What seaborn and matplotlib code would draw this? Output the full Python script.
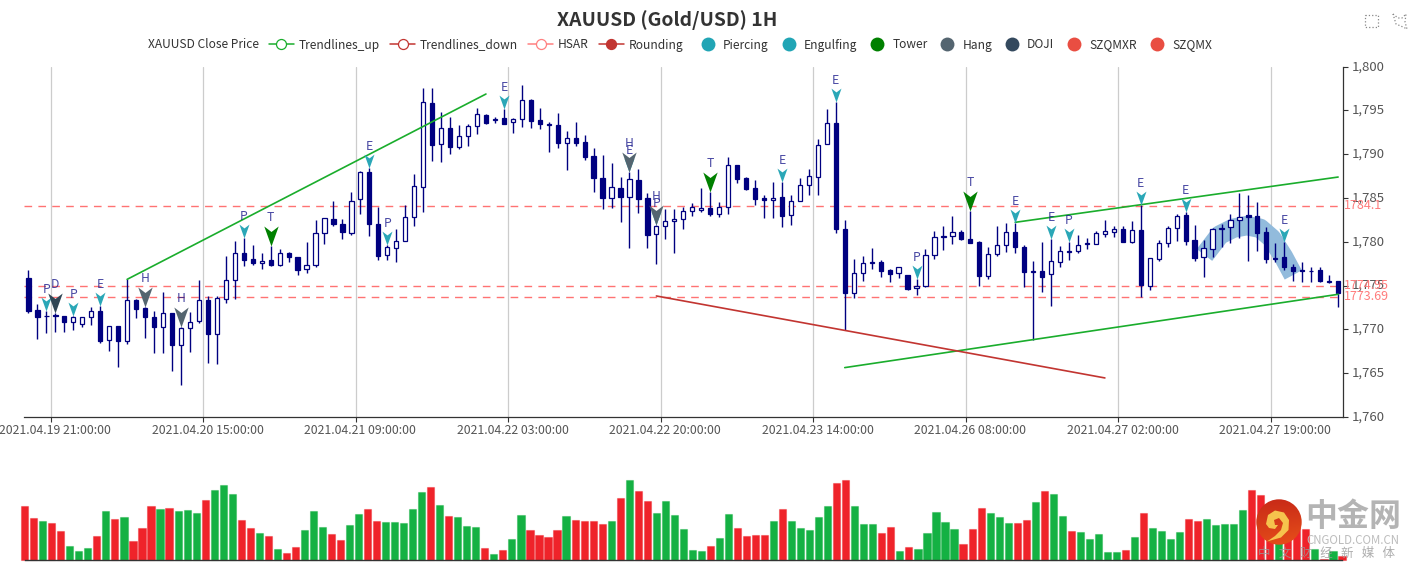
import numpy as np
import pandas as pd
import matplotlib
matplotlib.use('Agg')
import matplotlib.pyplot as plt
import seaborn as sns
from matplotlib.lines import Line2D
from matplotlib.patches import Circle, Polygon
from matplotlib.path import Path
from matplotlib.ticker import FuncFormatter, FixedLocator
from matplotlib.transforms import ScaledTranslation

# candles, hourly
opens = [1775.84, 1772.18, 1771.50, 1771.65, 1771.54, 1770.85, 1770.66, 1771.42, 1772.15, 1768.76,
         1770.43, 1768.72, 1773.36, 1772.41, 1771.46, 1770.24, 1771.92, 1768.23, 1770.13, 1770.93,
         1773.36, 1769.52, 1773.52, 1775.61, 1778.77, 1778.01, 1777.55, 1777.89, 1777.32, 1778.73,
         1778.31, 1776.86, 1777.32, 1780.97, 1782.65, 1782.04, 1780.97, 1784.86, 1787.94, 1782.04,
         1778.54, 1779.26, 1780.10, 1782.84, 1786.26, 1795.85, 1791.13, 1792.96, 1790.87, 1792.05,
         1793.19, 1794.48, 1793.95, 1794.10, 1793.64, 1793.99, 1796.23, 1793.91, 1793.49, 1793.34,
         1791.25, 1791.82, 1791.40, 1789.76, 1787.29, 1785.05, 1786.11, 1785.16, 1787.02, 1785.01,
         1780.86, 1781.77, 1782.34, 1782.57, 1783.56, 1783.60, 1783.83, 1783.14, 1783.98, 1788.77,
         1787.25, 1786.11, 1784.97, 1784.82, 1785.12, 1783.03, 1784.63, 1786.49, 1787.37, 1791.13,
         1793.53, 1781.51, 1774.20, 1776.41, 1777.55, 1777.66, 1776.75, 1776.41, 1776.26, 1774.70,
         1774.92, 1778.46, 1780.59, 1780.71, 1781.13, 1780.37, 1779.95, 1776.14, 1778.58, 1779.60,
         1781.16, 1779.45, 1776.56, 1776.64, 1776.37, 1777.74, 1778.92, 1778.92, 1779.72, 1779.72,
         1780.86, 1781.09, 1781.47, 1780.02, 1781.39, 1775.00, 1778.01, 1779.91, 1781.62, 1783.10,
         1780.17, 1778.23, 1779.19, 1781.43, 1781.66, 1782.53, 1783.03, 1782.99, 1781.09, 1778.04,
         1778.27, 1777.17, 1776.75, 1776.64, 1776.79, 1775.46, 1775.53]
closes = [1772.15, 1771.42, 1771.58, 1771.54, 1770.85, 1771.39, 1771.42, 1772.15, 1768.68, 1770.40,
          1768.65, 1773.33, 1772.34, 1771.46, 1770.28, 1771.92, 1768.23, 1770.21, 1770.85, 1773.33,
          1769.52, 1773.59, 1775.61, 1778.77, 1777.97, 1777.55, 1777.85, 1777.36, 1778.73, 1778.23,
          1776.83, 1777.40, 1780.97, 1782.69, 1782.04, 1781.13, 1784.70, 1787.94, 1782.00, 1778.42,
          1779.38, 1780.14, 1782.88, 1786.34, 1795.93, 1791.10, 1792.96, 1790.83, 1792.05, 1793.23,
          1794.56, 1793.61, 1794.06, 1793.49, 1793.99, 1796.23, 1793.83, 1793.42, 1793.34, 1791.32,
          1791.82, 1791.32, 1789.73, 1787.33, 1785.01, 1786.22, 1785.12, 1787.14, 1784.93, 1780.75,
          1781.81, 1782.34, 1782.65, 1783.56, 1783.98, 1783.83, 1783.14, 1783.98, 1788.74, 1787.21,
          1786.00, 1784.93, 1784.82, 1784.97, 1782.99, 1784.63, 1786.53, 1787.48, 1791.10, 1793.53,
          1781.51, 1774.20, 1776.41, 1777.55, 1777.66, 1776.71, 1776.37, 1777.09, 1774.66, 1774.92,
          1778.46, 1780.59, 1780.71, 1781.13, 1780.33, 1779.91, 1776.14, 1778.65, 1779.60, 1781.16,
          1779.45, 1776.56, 1776.67, 1776.03, 1777.78, 1778.92, 1778.81, 1779.68, 1779.83, 1780.97,
          1781.28, 1781.43, 1779.98, 1781.32, 1775.04, 1778.12, 1779.83, 1781.54, 1782.99, 1780.10,
          1778.16, 1779.26, 1781.43, 1781.62, 1782.53, 1782.88, 1782.88, 1781.01, 1778.08, 1778.20,
          1777.17, 1776.67, 1776.64, 1776.71, 1775.49, 1775.57, 1774.20]
highs = [1776.79, 1772.87, 1772.15, 1771.84, 1771.54, 1771.54, 1771.46, 1772.53, 1772.72, 1770.43,
         1770.43, 1775.72, 1773.52, 1772.53, 1772.11, 1774.24, 1771.92, 1770.32, 1771.99, 1775.65,
         1773.86, 1773.78, 1778.35, 1780.06, 1780.40, 1779.68, 1778.69, 1779.53, 1779.19, 1778.84,
         1778.31, 1779.98, 1782.46, 1782.69, 1784.66, 1782.57, 1785.69, 1788.13, 1788.39, 1783.98,
         1779.60, 1781.47, 1784.21, 1787.78, 1797.56, 1797.56, 1794.86, 1794.22, 1793.30, 1793.42,
         1795.24, 1794.63, 1794.29, 1795.13, 1794.18, 1797.87, 1796.27, 1795.24, 1793.72, 1794.75,
         1792.69, 1793.64, 1792.24, 1790.68, 1789.88, 1788.96, 1787.44, 1788.01, 1788.28, 1785.54,
         1781.93, 1783.75, 1783.75, 1784.02, 1784.40, 1786.15, 1785.73, 1784.51, 1789.69, 1788.81,
         1787.44, 1787.02, 1785.31, 1786.80, 1786.87, 1785.35, 1787.25, 1788.36, 1791.70, 1795.13,
         1796.00, 1782.50, 1778.01, 1778.35, 1779.26, 1777.89, 1776.86, 1777.13, 1776.26, 1775.76,
         1779.15, 1781.20, 1781.81, 1782.95, 1781.32, 1783.56, 1780.10, 1779.38, 1781.81, 1782.15,
         1782.19, 1779.64, 1777.82, 1780.02, 1780.29, 1779.53, 1780.02, 1780.75, 1780.44, 1781.24,
         1782.46, 1781.81, 1781.77, 1782.34, 1784.21, 1778.12, 1780.17, 1781.81, 1783.18, 1783.45,
         1781.93, 1780.21, 1781.62, 1782.04, 1783.14, 1785.54, 1785.35, 1784.51, 1781.73, 1779.83,
         1779.95, 1777.44, 1777.70, 1777.17, 1777.17, 1776.26, 1775.57]
lows = [1771.92, 1768.95, 1769.56, 1769.75, 1769.75, 1769.94, 1770.28, 1770.51, 1768.46, 1767.54,
        1765.68, 1768.38, 1771.27, 1769.06, 1767.31, 1767.31, 1765.26, 1763.62, 1767.43, 1770.70,
        1766.17, 1766.10, 1773.06, 1773.52, 1777.28, 1777.40, 1776.94, 1777.28, 1777.25, 1777.70,
        1776.26, 1776.48, 1777.09, 1779.72, 1781.77, 1780.33, 1780.82, 1783.22, 1780.71, 1777.97,
        1777.89, 1777.74, 1780.10, 1781.85, 1783.37, 1789.27, 1789.15, 1789.99, 1790.64, 1790.94,
        1792.35, 1793.49, 1793.61, 1793.49, 1792.47, 1793.15, 1793.00, 1792.88, 1790.26, 1790.68,
        1788.24, 1790.94, 1789.31, 1785.65, 1783.71, 1783.87, 1782.27, 1779.34, 1783.33, 1779.26,
        1777.44, 1780.37, 1778.77, 1781.43, 1782.99, 1783.41, 1782.99, 1782.88, 1783.22, 1786.76,
        1785.96, 1784.17, 1782.76, 1782.72, 1781.66, 1781.89, 1784.63, 1785.35, 1785.31, 1791.13,
        1781.05, 1769.98, 1773.59, 1775.53, 1776.86, 1775.95, 1775.46, 1775.84, 1774.54, 1773.90,
        1774.85, 1778.01, 1779.07, 1779.76, 1780.21, 1779.91, 1774.96, 1775.76, 1778.42, 1778.84,
        1778.77, 1774.89, 1768.80, 1774.28, 1772.68, 1777.09, 1777.89, 1778.77, 1779.22, 1779.72,
        1780.56, 1780.59, 1779.98, 1779.83, 1773.71, 1774.54, 1777.82, 1779.45, 1780.10, 1779.64,
        1777.85, 1776.03, 1778.31, 1779.38, 1779.91, 1780.48, 1777.82, 1779.00, 1777.63, 1777.74,
        1776.83, 1775.57, 1775.46, 1775.46, 1775.46, 1775.34, 1772.60]
volumes = [163, 128, 117, 111, 89, 44, 29, 36, 74, 149, 125, 130, 59, 98, 163, 153, 156, 147, 150, 143,
           182, 210, 225, 198, 120, 98, 82, 73, 33, 23, 39, 91, 147, 101, 80, 62, 105, 140, 153, 117,
           116, 114, 112, 153, 206, 221, 166, 133, 131, 102, 99, 36, 20, 31, 64, 135, 92, 75, 69, 92,
           133, 122, 119, 118, 108, 117, 188, 242, 207, 178, 143, 178, 136, 93, 30, 29, 42, 66, 139, 98,
           74, 75, 77, 119, 153, 117, 98, 92, 129, 164, 232, 241, 163, 110, 108, 82, 100, 29, 39, 35,
           83, 146, 115, 94, 50, 93, 156, 143, 131, 111, 111, 122, 174, 209, 198, 132, 88, 84, 65, 79,
           26, 25, 32, 70, 142, 98, 89, 65, 86, 125, 119, 125, 107, 109, 110, 152, 212, 197, 100, 60,
           120, 110, 93, 35, 3, 28, 12]

tick_idx = [3, 20, 37, 54, 71, 88, 105, 122, 139]
tick_labels = ['2021.04.19 21:00:00', '2021.04.20 15:00:00', '2021.04.21 09:00:00',
               '2021.04.22 03:00:00', '2021.04.22 20:00:00', '2021.04.23 14:00:00',
               '2021.04.26 08:00:00', '2021.04.27 02:00:00', '2021.04.27 19:00:00']

hsar_levels = [1784.1, 1774.95, 1773.69]
hsar_labels = ['1784.1', '1774.95', '1773.69']

trend_up = [([11, 51], [1775.72, 1796.88]),
            ([91, 146], [1765.64, 1774.01]),
            ([110, 146], [1782.23, 1787.40])]
trend_down = [([70, 120], [1773.82, 1764.46])]

rounding_x = [131.1, 132.8, 134.3, 135.8, 137.3, 138.6, 139.9, 141.0]
rounding_y = [1778.50, 1780.78, 1781.55, 1781.85, 1781.55, 1780.40, 1778.31, 1776.22]

piercing = [2, 5, 24, 40, 70, 99, 116]
engulfing = [8, 38, 53, 67, 84, 90, 110, 114, 124, 129, 140]
tower = [27, 76, 105]
hang = [13, 17, 67, 70]
doji = [3]

NAVY = '#000080'
TEAL = '#2aa7b7'
TOWER = '#008000'
HANG = '#546570'
DOJI = '#2f4554'
UP_GREEN = '#14b143'
DOWN_RED = '#ef232a'
TXT = '#333333'

W, H = 1413, 572
sns.set_theme(style='white')
plt.rcParams['font.family'] = ['Noto Sans CJK SC', 'DejaVu Sans']

def px_rect(left, top, right, bottom):
    return [left / W, 1 - bottom / H, (right - left) / W, (bottom - top) / H]

fig = plt.figure(figsize=(W / 100, H / 100), dpi=100, facecolor='white')
ax = fig.add_axes(px_rect(24, 66.7, 1342.6, 417))
ax_vol = fig.add_axes(px_rect(24.7, 476, 1342, 560.4))

idx = np.arange(len(opens))
o = np.array(opens)
c = np.array(closes)
falling = c < o

# price panel
ax.set_xlim(-0.5, 146.5)
ax.set_ylim(1760, 1800)
ax.vlines(idx, lows, highs, color=NAVY, lw=1.0, zorder=3)
ax.bar(idx, np.abs(c - o), bottom=np.minimum(o, c), width=0.47,
       color=[NAVY if f else 'white' for f in falling], edgecolor=NAVY, linewidth=0.9, zorder=4)

for level in hsar_levels:
    ax.plot([-0.5, 146.5], [level, level], color='#ff6b6b', lw=1.0, dashes=(5.5, 4.5), zorder=2.5, alpha=0.95)
for level, label in zip(hsar_levels, hsar_labels):
    ax.annotate(label, xy=(1, level), xycoords=ax.get_yaxis_transform(), xytext=(1, 0.3),
                textcoords='offset points', color='#ff7c7c', fontsize=9, va='center', ha='left',
                annotation_clip=False, zorder=6)

for xs, ys in trend_up:
    sns.lineplot(x=xs, y=ys, color='#1aad2c', lw=1.2, ax=ax, zorder=5, errorbar=None)
for xs, ys in trend_down:
    sns.lineplot(x=xs, y=ys, color='#c23531', lw=1.2, ax=ax, zorder=5, errorbar=None)
ax.plot(rounding_x, rounding_y, color='#92bbdc', lw=14, solid_capstyle='butt',
        solid_joinstyle='round', zorder=2)

arrow = Path([(0, 0), (-0.72, 2), (0, 1.45), (0.72, 2), (0, 0)],
             [Path.MOVETO, Path.LINETO, Path.LINETO, Path.LINETO, Path.CLOSEPOLY])

def mark(positions, letter, color, big=False):
    ys = [highs[i] for i in positions]
    sns.scatterplot(x=positions, y=ys, marker=arrow, s=829 if big else 400, color=color,
                    linewidth=0, ax=ax, zorder=7 if big else 6, legend=False)
    for i in positions:
        ax.annotate(letter, xy=(i, highs[i]), xytext=(0, 20.5 if big else 15.5), textcoords='offset points',
                    ha='center', va='center', fontsize=8.8, color=(0.1, 0.1, 0.55, 0.8), zorder=8)

mark(piercing, 'P', TEAL)
mark(engulfing, 'E', TEAL)
mark(tower, 'T', TOWER, big=True)
mark(hang, 'H', HANG, big=True)
mark(doji, 'D', DOJI, big=True)

ax.set_xlim(-0.5, 146.5)
ax.set_ylim(1760, 1800)
ax.yaxis.tick_right()
ax.yaxis.set_major_locator(FixedLocator(np.arange(1760, 1801, 5)))
ax.yaxis.set_major_formatter(FuncFormatter(lambda v, p: f'{v:,.0f}'))
ax.xaxis.set_major_locator(FixedLocator([i - 0.5 for i in tick_idx]))
ax.xaxis.set_major_formatter(FuncFormatter(lambda v, p: ''))
ax.xaxis.set_minor_locator(FixedLocator(tick_idx))
ax.set_xticklabels(tick_labels, minor=True)
ax.tick_params(axis='x', which='major', length=3.6, width=0.8, color=TXT, bottom=True)
ax.tick_params(axis='x', which='minor', length=0, pad=5.3, labelsize=8.85, labelcolor='#555555', bottom=True)
ax.tick_params(axis='y', length=3.8, width=0.8, color=TXT, right=True, pad=3, labelsize=9.5, labelcolor='#555555')
ax.grid(axis='x', which='major', color='#cccccc', lw=0.9)
ax.grid(axis='y', visible=False)
ax.set_axisbelow(True)
ax.set_xlabel('')
ax.set_ylabel('')
for side in ['left', 'top']:
    ax.spines[side].set_visible(False)
for side in ['right', 'bottom']:
    ax.spines[side].set_color(TXT)
    ax.spines[side].set_linewidth(0.9)
for t in ax.get_yticklabels():
    t.set_transform(t.get_transform() + ScaledTranslation(0, 1.5 / 100, fig.dpi_scale_trans))

# volume panel
df_vol = pd.DataFrame({'i': idx, 'volume': volumes, 'side': np.where(falling, 'down', 'up')})
sns.barplot(data=df_vol, x='i', y='volume', hue='side', palette={'down': DOWN_RED, 'up': UP_GREEN},
            dodge=False, native_scale=True, width=0.79, saturation=1, legend=False, ax=ax_vol)
for p in ax_vol.patches:
    fc = p.get_facecolor()
    p.set_edgecolor((fc[0], fc[1], fc[2], 0.4))
    p.set_linewidth(0.8)
    p.set_clip_on(False)
ax_vol.set_xlim(0, 146)
ax_vol.set_ylim(0, 253)
ax_vol.set_xticks([])
ax_vol.set_yticks([])
ax_vol.set_xlabel('')
ax_vol.set_ylabel('')
for side in ['left', 'top', 'right']:
    ax_vol.spines[side].set_visible(False)
ax_vol.spines['bottom'].set_color(TXT)
ax_vol.spines['bottom'].set_linewidth(1.0)
ax_vol.patch.set_alpha(0)

# title and legend
fig.text(667 / W, 1 - 20.5 / H, 'XAUUSD (Gold/USD) 1H', ha='center', va='center', fontsize=13.9,
         fontweight='bold', color=TXT)

def line_handle(color, face):
    return Line2D([], [], color=color, lw=1.1, marker='o', markersize=7.2,
                  markerfacecolor=face, markeredgecolor=color, markeredgewidth=0.9)

def dot_handle(color):
    return Line2D([], [], ls='none', marker='o', markersize=10, markerfacecolor=color,
                  markeredgecolor=color, markeredgewidth=0)

line_handles = [Line2D([], [], color='none'), line_handle('#1aad2c', 'white'), line_handle('#c23531', 'white'),
                line_handle('#ff8080', 'white'), line_handle('#c23531', '#c23531')]
line_labels = ['XAUUSD Close Price', 'Trendlines_up', 'Trendlines_down', 'HSAR', 'Rounding']
dot_handles = [dot_handle('#21a5b5'), dot_handle('#21a5b5'), dot_handle(TOWER), dot_handle(HANG),
               dot_handle('#34495e'), dot_handle('#e94e42'), dot_handle('#e94e42')]
dot_labels = ['Piercing', 'Engulfing', 'Tower', 'Hang', 'DOJI', 'SZQMXR', 'SZQMX']
fig.legend(line_handles, line_labels, loc='center left', bbox_to_anchor=(118 / W, 1 - 45 / H), ncol=5,
           frameon=False, fontsize=8.64, labelcolor=TXT, handlelength=2.08, handletextpad=0.42,
           columnspacing=0.83, borderpad=0, borderaxespad=0)
fig.legend(dot_handles, dot_labels, loc='center left', bbox_to_anchor=(698 / W, 1 - 45 / H), ncol=7,
           frameon=False, fontsize=8.64, labelcolor=TXT, handlelength=1.67, handletextpad=0.42,
           columnspacing=0.83, borderpad=0, borderaxespad=0)

# watermark and toolbox, drawn on a pixel overlay
ov = fig.add_axes([0, 0, 1, 1], zorder=10)
grad = np.linspace(0, 1, 64).reshape(-1, 1) * np.linspace(0.75, 1, 64)
im = ov.imshow(grad, extent=(1256, 1302, 545, 499), cmap=sns.blend_palette(['#c92b17', '#e8511a'], as_cmap=True),
               zorder=1, aspect='auto')
im.set_clip_path(Circle((1279, 522), 22.7, transform=ov.transData))
ov.add_patch(Polygon([(1266, 524), (1268, 515), (1275, 510.5), (1284, 512.5), (1289, 520), (1288.5, 530),
                      (1281, 537.5), (1267, 541.5), (1275, 536), (1281, 530), (1283, 523), (1279, 518),
                      (1274, 520), (1275, 525), (1278, 525), (1275, 529), (1269, 528)],
                     closed=True, facecolor='#f6c34d', edgecolor='none', zorder=2))
ov.text(1353, 517, '中金网', fontsize=23, fontweight='bold', color='#b4b4b4', ha='center', va='center')
ov.text(1352.5, 540.5, 'CNGOLD.COM.CN', fontsize=8.3, color='#bdbdbd', ha='center', va='center')
ov.text(1327, 553, '中   文   财   经   新   媒   体', fontsize=9, color='#9a9a9a', alpha=0.8,
        ha='center', va='center')
ov.plot([1365, 1378, 1378, 1365, 1365], [15, 15, 27, 27, 15], color='#888888', lw=0.9, ls=':')
ov.plot([1393, 1398, 1402, 1406, 1405, 1407, 1403, 1396, 1393],
        [14, 18, 18, 14, 22, 29, 27, 24, 14], color='#888888', lw=0.9, ls=':')
ov.set_xlim(0, W)
ov.set_ylim(H, 0)
ov.axis('off')
ov.patch.set_alpha(0)

fig.savefig('out.png', dpi=100)
